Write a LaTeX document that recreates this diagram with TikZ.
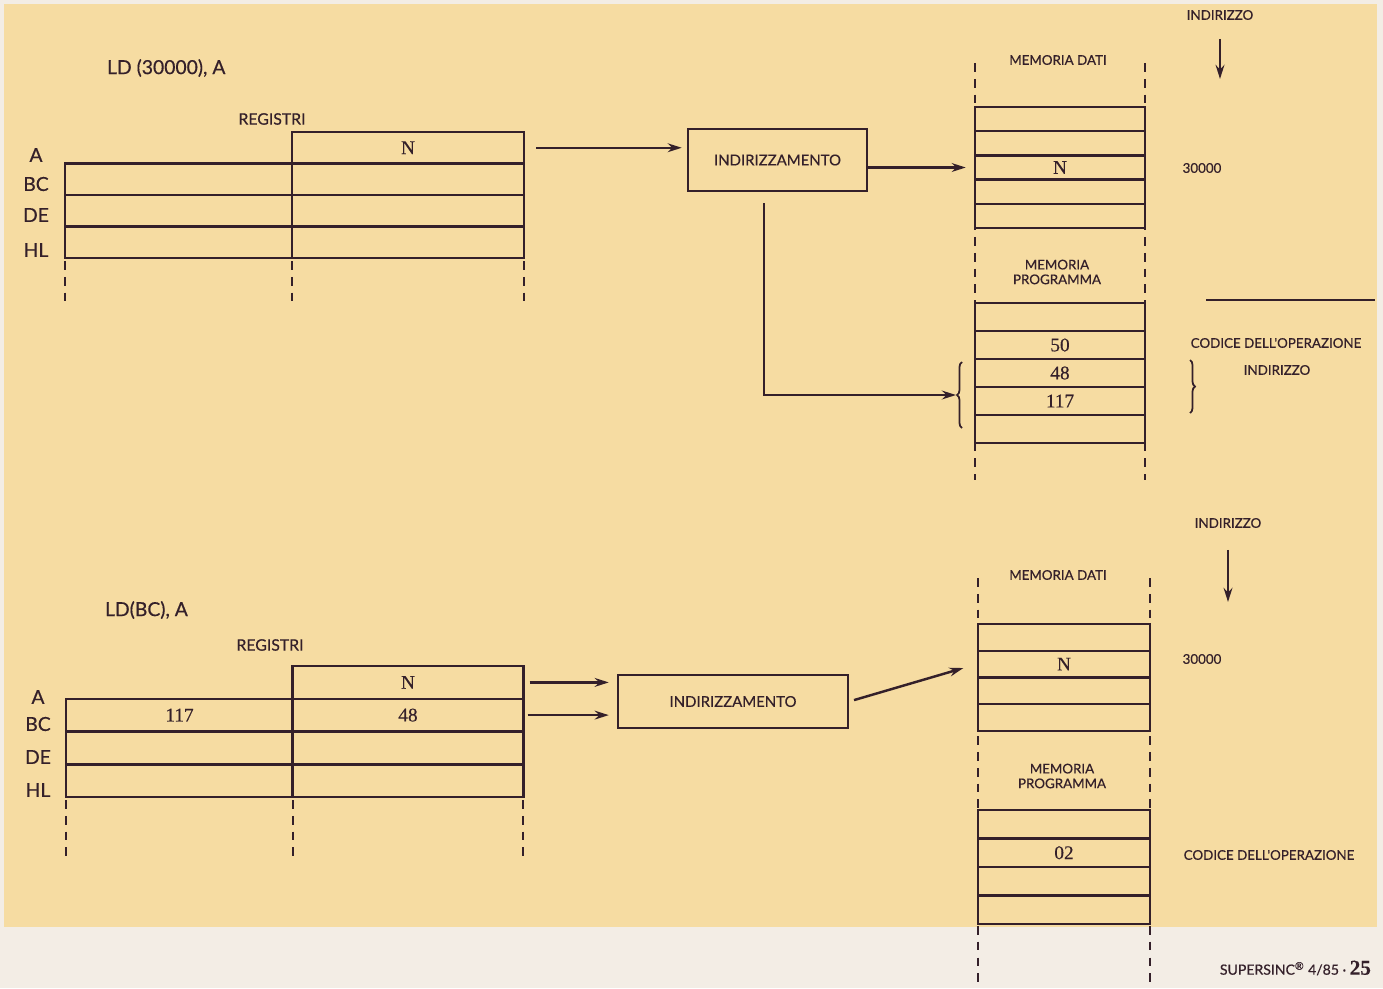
\documentclass[tikz,border=0pt]{standalone}
\usepackage{fontspec}
\setmainfont{Liberation Serif}[FakeBold=0.3]
\newfontfamily\etfont{Lato}[FakeBold=0.5]
\usetikzlibrary{arrows.meta,decorations.pathreplacing}

\definecolor{carta}{RGB}{246,220,162}
\definecolor{margine}{RGB}{243,237,229}
\definecolor{inchiostro}{RGB}{52,32,42}

\begin{document}
\begin{tikzpicture}[
        x={(0.02cm,0cm)},
        y={(0cm,-0.02cm)},
        color=inchiostro,
        line width=1.4pt,
        font=\etfont,
        cella/.style={draw, inner sep=0pt, font=\rmfamily\fontsize{11}{12}\selectfont},
        blocco/.style={draw, inner sep=0pt, font=\etfont\fontsize{8.5}{10}\selectfont},
        freccia/.style={-{Stealth[length=8pt,width=5pt]}},
        tratto/.style={line width=1pt, dash pattern=on 5pt off 4pt},
        graffa/.style={decorate, decoration={brace, amplitude=0.1cm}, line width=1pt},
        registro/.style={font=\etfont\fontsize{11}{12}\selectfont},
        titolo/.style={font=\etfont\fontsize{11}{12}\selectfont, anchor=west},
        scritta/.style={font=\etfont\fontsize{7.6}{8.4}\selectfont, align=center}
    ]

    % ---------- pagina ----------
    \useasboundingbox (0,0) rectangle (1383,988);
    \fill[margine] (0,0) rectangle (1383,988);
    \fill[carta] (4,4) rectangle (1377,927);

    % ---------- LD (30000), A : registri ----------
    \node[titolo] (istr1) at (100,68) {LD (30000), A};
    \node[scritta, font=\etfont\fontsize{9}{10}\selectfont] (reg1) at (272,119) {REGISTRI};

    \node[cella, minimum width=4.64cm, minimum height=0.63cm] (A1) at (408,147.75) {N};
    \foreach \r/\y in {BC/179.25, DE/210.75, HL/242.25} {
        \node[cella, minimum width=4.54cm, minimum height=0.63cm] (s\r1) at (178.5,\y) {};
        \node[cella, minimum width=4.64cm, minimum height=0.63cm] (d\r1) at (408,\y) {};
    }
    \foreach \r/\y in {A/155, BC/184, DE/215, HL/250}
        \node[registro] (et\r1) at (36,\y) {\r};

    \foreach \x in {65,292,524}
        \draw[tratto] (\x,261) -- (\x,302);

    % ---------- LD (30000), A : indirizzamento ----------
    \node[blocco, minimum width=3.58cm, minimum height=1.24cm] (ind1) at (777.5,160) {INDIRIZZAMENTO};

    % ---------- LD (30000), A : memoria ----------
    \draw[tratto] (975,63) -- (975,480);
    \draw[tratto] (1145,63) -- (1145,480);
    \node[scritta] (md1) at (1058,60) {MEMORIA DATI};
    \node[scritta] (mp1) at (1057,272) {MEMORIA\\PROGRAMMA};

    \foreach \i/\t in {1/,2/,3/N,4/,5/}
        \node[cella, fill=carta, minimum width=3.4cm, minimum height=0.484cm] (dati\i) at (1060,{94.9+\i*24.2}) {\t};
    \foreach \i/\t in {1/,2/50,3/48,4/117,5/}
        \node[cella, fill=carta, minimum width=3.4cm, minimum height=0.56cm] (prog\i) at (1060,{289+\i*28}) {\t};

    \node[scritta] (indA) at (1220,15) {INDIRIZZO};
    \node[scritta] (val1) at (1202,168) {30000};
    \node[scritta] (cod1) at (1276,343) {CODICE DELL'OPERAZIONE};
    \node[scritta] (indB) at (1277,370) {INDIRIZZO};
    \draw (1206,300) -- (1375,300);

    % graffe
    \draw[graffa] (962,428) -- (962,362);
    \coordinate (punta) at (956,395);
    \draw[graffa] (1190,360) -- (1190,413);

    % ---------- LD (30000), A : frecce ----------
    \draw[freccia, shorten <=0.22cm, shorten >=0.1cm] (A1.east) -- (A1.east -| ind1.west);
    \draw[freccia, shorten >=0.16cm] (ind1.east |- dati3.west) -- (dati3.west);
    \draw[freccia] ([xshift=-0.27cm,yshift=-0.22cm]ind1.south) |- (punta);
    \draw[freccia, shorten <=0.24cm] (indA.south) -- ++(0,52);

    % ---------- LD(BC), A : registri ----------
    \node[titolo] (istr2) at (98,610) {LD(BC), A};
    \node[scritta, font=\etfont\fontsize{9}{10}\selectfont] (reg2) at (270,645) {REGISTRI};

    \node[cella, minimum width=4.62cm, minimum height=0.655cm] (A2) at (408,682.4) {N};
    \foreach \r/\y/\s/\d in {BC/715.1/117/48, DE/747.9//, HL/780.6//} {
        \node[cella, minimum width=4.54cm, minimum height=0.655cm] (s\r2) at (179.5,\y) {\s};
        \node[cella, minimum width=4.62cm, minimum height=0.655cm] (d\r2) at (408,\y) {\d};
    }
    \foreach \r/\y in {A/697, BC/724, DE/757, HL/790}
        \node[registro] (et\r2) at (38,\y) {\r};

    \foreach \x in {66,293,523}
        \draw[tratto] (\x,800) -- (\x,857);

    % ---------- LD(BC), A : indirizzamento ----------
    \node[blocco, minimum width=4.6cm, minimum height=1.06cm] (ind2) at (733,701.5) {INDIRIZZAMENTO};

    % ---------- LD(BC), A : memoria ----------
    \draw[tratto] (978,578) -- (978,988);
    \draw[tratto] (1150,578) -- (1150,988);
    \node[scritta] (md2) at (1058,575) {MEMORIA DATI};
    \node[scritta] (mp2) at (1062,776) {MEMORIA\\PROGRAMMA};

    \foreach \i/\t in {1/,2/N,3/,4/}
        \node[cella, fill=carta, minimum width=3.44cm, minimum height=0.535cm] (datiB\i) at (1064,{610.6+\i*26.75}) {\t};
    \foreach \i/\t in {1/,2/02,3/,4/}
        \node[cella, fill=carta, minimum width=3.44cm, minimum height=0.57cm] (progB\i) at (1064,{795.75+\i*28.5}) {\t};

    \node[scritta] (indC) at (1228,523) {INDIRIZZO};
    \node[scritta] (val2) at (1202,659) {30000};
    \node[scritta] (cod2) at (1269,855) {CODICE DELL'OPERAZIONE};

    % ---------- LD(BC), A : frecce ----------
    \draw[freccia, shorten <=0.1cm, shorten >=0.16cm] (A2.east) -- (A2.east -| ind2.west);
    \draw[freccia, shorten <=0.06cm, shorten >=0.16cm] (dBC2.east) -- (dBC2.east -| ind2.west);
    \draw[freccia, shorten <=0.1cm, shorten >=0.28cm] (ind2.east) -- (datiB2.west);
    \draw[freccia, shorten <=0.3cm] (indC.south) -- ++(0,67);

    % ---------- piede ----------
    \node[anchor=east, font=\etfont\fontsize{8}{9}\selectfont] (piede) at (1378,968)
        {SUPERSINC\textsuperscript{\textregistered} 4/85 \textperiodcentered\ {\rmfamily\bfseries\fontsize{12}{12}\selectfont 25}};

\end{tikzpicture}
\end{document}
